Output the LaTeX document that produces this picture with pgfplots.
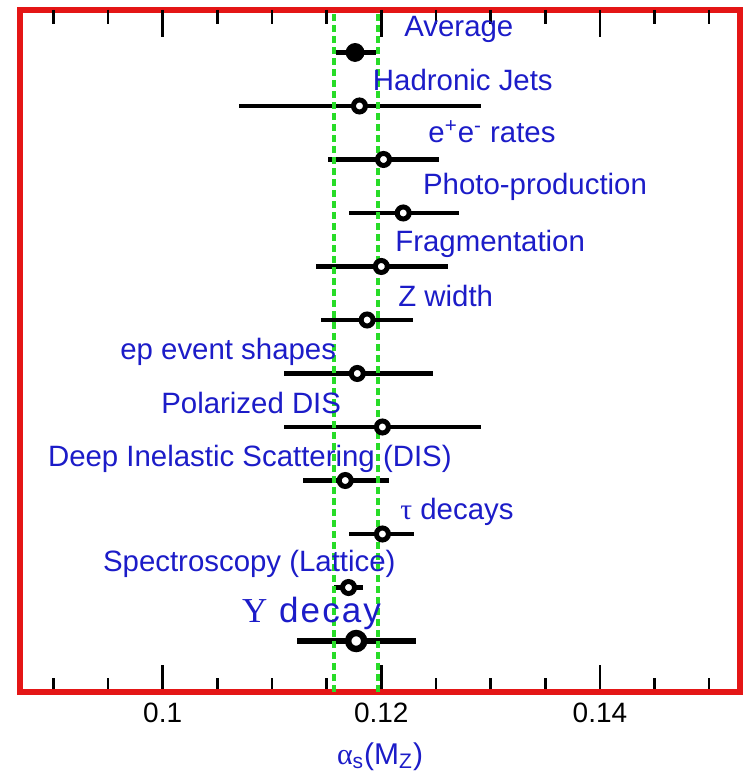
\documentclass[border=0pt]{standalone}
\usepackage{fontspec}
\setmainfont{Liberation Sans}
\newfontfamily\serif{Liberation Serif}
\newfontfamily\sansls[LetterSpace=6]{Liberation Sans}
\newfontfamily\serifls[LetterSpace=6]{Liberation Serif}
\usepackage{pgfplots}
\usepackage{pgfplotstable}
\pgfplotsset{compat=1.18}

\definecolor{framered}{RGB}{228,22,22}
\definecolor{bandgreen}{RGB}{40,220,40}
\definecolor{labblue}{RGB}{28,28,200}

\tikzset{lbl/.style={anchor=base west, inner sep=0pt, text=labblue,
    font=\fontsize{14.7}{17}\selectfont}}

% alpha_s(M_Z) results: row, central value, minus / plus uncertainty
\pgfplotstableread{
x      y   em      ep
0.1176 12  0.0017  0.0019
}\avgdata
\pgfplotstableread{
x      y   em      ep
0.1180 11  0.0110  0.0111
0.1202 10  0.0051  0.0051
0.1220 9   0.0050  0.0051
0.1200 8   0.0060  0.0061
0.1187 7   0.0042  0.0042
0.1178 6   0.0067  0.0069
0.1201 5   0.0090  0.0090
0.1167 4   0.0039  0.0040
0.1201 3   0.0031  0.0029
0.1170 2   0.0013  0.0013
}\measdata
\pgfplotstableread{
x      y   em      ep
0.1177 1   0.0054  0.0055
}\upsdata
% tick marks hanging from the upper edge (position, length in rows)
\pgfplotstableread{
x      y       len
0.090  12.794  0.262
0.095  12.794  0.262
0.100  12.794  0.505
0.105  12.794  0.262
0.110  12.794  0.262
0.115  12.794  0.262
0.120  12.794  0.505
0.125  12.794  0.262
0.130  12.794  0.262
0.135  12.794  0.262
0.140  12.794  0.505
0.145  12.794  0.262
0.150  12.794  0.262
}\topticks

\begin{document}
\begin{tikzpicture}
\begin{axis}[
  scale only axis, width=360pt, height=341pt,
  xmin=0.08695, xmax=0.15281, ymin=0.047, ymax=12.794,
  axis line style={framered, line width=3pt},
  xtick={0.1,0.12,0.14},
  minor xtick={0.09,0.095,0.105,0.11,0.115,0.125,0.13,0.135,0.145,0.15},
  ytick=\empty, xtick align=inside,
  major tick length=13.5pt, minor tick length=7pt,
  tick style={black, line width=1.2pt},
  xticklabels={0.1,0.12,0.14},
  xticklabel style={font=\fontsize{14}{16}\selectfont, yshift=-2pt},
  xlabel={{\serif α}\textsubscript{s}(M\textsubscript{Z})},
  xlabel style={at={(axis description cs:0.5,0)}, anchor=base, yshift=-36pt,
    inner sep=0pt, text=labblue, font=\fontsize{15}{17}\selectfont},
  clip=false,
]
% upper tick row
\addplot[only marks, mark=none, mark size=0pt, mark options={draw=none, fill=none},
  black, error bars/.cd, y dir=minus, y explicit,
  error mark=none, error bar style={black, line width=1.2pt}]
  table[x=x, y=y, y error minus=len] {\topticks};

% horizontal uncertainty bars
\addplot[only marks, mark=none, black, error bars/.cd, x dir=both, x explicit,
  error mark=none, error bar style={black, line width=2.8pt}]
  table[x=x, y=y, x error minus=em, x error plus=ep] {\avgdata};
\addplot[only marks, mark=none, black, error bars/.cd, x dir=both, x explicit,
  error mark=none, error bar style={black, line width=2.2pt}]
  table[x=x, y=y, x error minus=em, x error plus=ep] {\measdata};
\addplot[only marks, mark=none, black, error bars/.cd, x dir=both, x explicit,
  error mark=none, error bar style={black, line width=3.3pt}]
  table[x=x, y=y, x error minus=em, x error plus=ep] {\upsdata};

% world-average band
\addplot[bandgreen, line width=2pt, dash pattern=on 3.5pt off 2pt]
  coordinates {(0.11564,0.047) (0.11564,12.794)};
\addplot[bandgreen, line width=2pt, dash pattern=on 3.5pt off 2pt]
  coordinates {(0.11969,0.047) (0.11969,12.794)};

% central values
\addplot[only marks, mark=*, mark size=4.5pt, mark options={fill=black, draw=black}]
  table[x=x, y=y] {\avgdata};
\addplot[only marks, mark=*, mark size=3pt,
  mark options={fill=white, draw=black, line width=2.5pt}]
  table[x=x, y=y] {\measdata};
\addplot[only marks, mark=*, mark size=4pt,
  mark options={fill=white, draw=black, line width=3.2pt}]
  table[x=x, y=y] {\upsdata};

% measurement labels
\node[lbl] at (axis cs:0.12207,12.30) {Average};
\node[lbl] at (axis cs:0.11920,11.28) {Hadronic Jets};
\node[lbl] at (axis cs:0.12427,10.31) {e\textsuperscript{+}e\textsuperscript{-} rates};
\node[lbl] at (axis cs:0.12378,9.34) {Photo-production};
\node[lbl] at (axis cs:0.12125,8.28) {Fragmentation};
\node[lbl] at (axis cs:0.12152,7.26) {Z width};
\node[lbl] at (axis cs:0.09609,6.26) {ep event shapes};
\node[lbl] at (axis cs:0.09984,5.26) {Polarized DIS};
\node[lbl] at (axis cs:0.08948,4.26) {Deep Inelastic Scattering (DIS)};
\node[lbl] at (axis cs:0.12171,3.27) {{\serif τ} decays};
\node[lbl] at (axis cs:0.09451,2.29) {Spectroscopy (Lattice)};
\node[lbl, font=\fontsize{17.5}{20}\selectfont] at (axis cs:0.10723,1.34)
  {{\serifls Υ}\sansls{} decay};
\end{axis}
\pgfresetboundingbox
\path[use as bounding box] (-10pt,-41pt) rectangle (363pt,346pt);
\end{tikzpicture}
\end{document}
